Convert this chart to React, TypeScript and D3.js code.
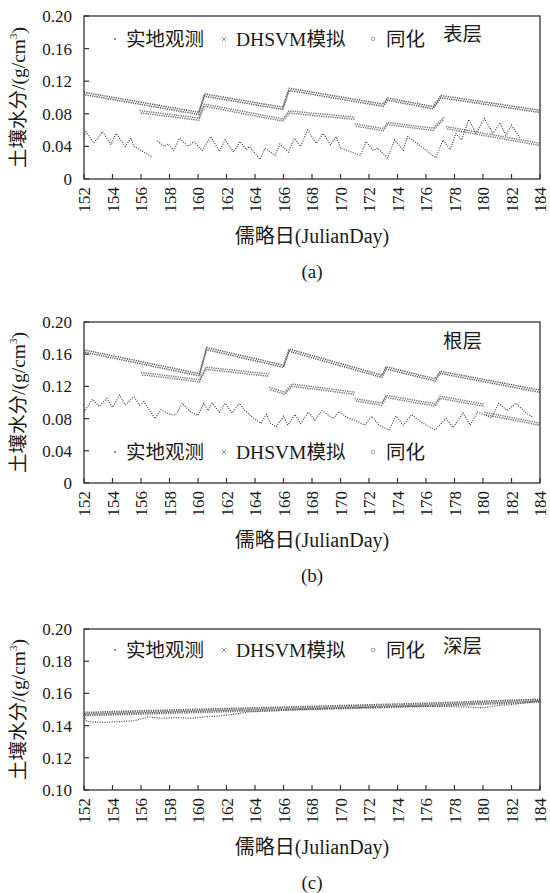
import React from "react";
import * as d3 from "d3";

type Pt = [number, number] | null;

// ---------- tick labels ----------
const xTicks = [152, 154, 156, 158, 160, 162, 164, 166, 168, 170, 172, 174, 176, 178, 180, 182, 184];
const yTicksAB = [0, 0.04, 0.08, 0.12, 0.16, 0.2];
const yLabelsAB = ["0", "0.04", "0.08", "0.12", "0.16", "0.20"];
const yTicksC = [0.1, 0.12, 0.14, 0.16, 0.18, 0.2];
const yLabelsC = ["0.10", "0.12", "0.14", "0.16", "0.18", "0.20"];

const legendNames = ["实地观测", "DHSVM模拟", "同化"];
const layerNames = ["表层", "根层", "深层"];
const captions = ["(a)", "(b)", "(c)"];

// ---------- panel (a) 表层 ----------
const obsA: Pt[] = [
  [152.0, 0.052], [152.15, 0.058], [152.7, 0.044], [153.3, 0.058], [153.9, 0.042], [154.25, 0.056],
  [154.9, 0.040], [155.3, 0.050], [155.5, 0.040], [156.8, 0.027], null,
  [157.15, 0.047], [157.6, 0.040], [157.9, 0.043], [158.3, 0.035], [158.7, 0.050], [159.3, 0.040],
  [159.7, 0.046], [160.3, 0.035], [160.9, 0.052], [161.5, 0.034], [161.9, 0.048], [162.5, 0.033],
  [162.95, 0.046], [163.4, 0.036], [163.6, 0.040], [164.35, 0.024], [164.7, 0.038], [165.4, 0.029],
  [165.75, 0.043], [166.35, 0.033], [166.75, 0.050], [167.2, 0.040], [167.7, 0.060], [168.3, 0.044],
  [168.8, 0.056], [169.3, 0.042], [169.7, 0.052], [170.0, 0.038], [171.4, 0.029], [171.8, 0.046],
  [172.3, 0.035], [172.6, 0.038], [173.3, 0.026], [173.8, 0.048], [174.4, 0.035], [174.7, 0.052],
  [175.2, 0.046], [176.7, 0.026], [177.2, 0.048], [177.7, 0.036], [178.1, 0.056], [178.5, 0.048],
  [179.0, 0.073], [179.5, 0.056], [180.1, 0.074], [180.7, 0.056], [181.2, 0.069], [181.6, 0.054],
  [182.0, 0.066], [182.6, 0.050],
];
const dhsvmA: Pt[] = [
  [152, 0.105], [160.05, 0.0805], [160.45, 0.103], [165.95, 0.0867], [166.4, 0.110],
  [173.0, 0.0905], [173.3, 0.098], [176.5, 0.0875], [177.05, 0.101], [184, 0.083],
];
const assimA: Pt[] = [
  [155.9, 0.0826], [160.05, 0.0735], [160.45, 0.0905], [165.95, 0.0724], [166.4, 0.0822],
  [171.0, 0.0745], null,
  [171.0, 0.0665], [173.0, 0.0605], [173.3, 0.068], [176.5, 0.061], [177.25, 0.0745], null,
  [177.4, 0.063], [184, 0.0425],
];

// ---------- panel (b) 根层 ----------
const obsB: Pt[] = [
  [152.0, 0.088], [152.1, 0.091], [152.6, 0.104], [153.05, 0.095], [153.6, 0.105], [154.0, 0.094],
  [154.5, 0.109], [154.9, 0.097], [155.5, 0.107], [155.9, 0.097], [156.2, 0.101], [157.0, 0.080],
  [157.4, 0.091], [157.8, 0.087], [158.4, 0.084], [158.9, 0.099], [159.5, 0.088], [160.0, 0.084],
  [160.4, 0.099], [160.7, 0.090], [161.0, 0.099], [161.5, 0.088], [161.9, 0.099], [162.4, 0.087],
  [162.9, 0.099], [163.3, 0.090], [163.8, 0.082], [164.4, 0.074], [164.8, 0.085], [165.1, 0.074],
  [165.5, 0.070], [166.0, 0.083], [166.3, 0.072], [166.8, 0.085], [167.2, 0.074], [167.75, 0.088],
  [168.2, 0.078], [168.7, 0.090], [169.5, 0.080], [169.9, 0.089], [170.4, 0.082], [171.0, 0.078],
  [171.7, 0.072], [172.2, 0.083], [172.7, 0.072], [173.4, 0.066], [173.9, 0.083], [174.4, 0.072],
  [175.0, 0.085], [175.7, 0.075], [176.65, 0.066], [177.4, 0.080], [177.9, 0.069], [178.6, 0.087],
  [179.1, 0.072], [179.6, 0.088], [180.2, 0.084], [180.6, 0.081], [181.1, 0.099], [181.7, 0.090],
  [182.3, 0.099], [183.1, 0.086], [183.5, 0.082],
];
const dhsvmB: Pt[] = [
  [152, 0.164], [160.1, 0.1345], [160.6, 0.167], [166.0, 0.145], [166.4, 0.165],
  [172.9, 0.1325], [173.2, 0.143], [176.65, 0.128], [177.0, 0.1375], [184, 0.114],
];
const assimB: Pt[] = [
  [156.0, 0.136], [160.1, 0.127], [160.55, 0.1425], [165.0, 0.134], null,
  [165.0, 0.1176], [166.1, 0.1114], [166.6, 0.1215], [171.0, 0.1115], null,
  [171.0, 0.1035], [172.9, 0.098], [173.2, 0.1075], [176.65, 0.097], [177.0, 0.1065],
  [180.1, 0.0965], null,
  [180.1, 0.0865], [184, 0.073],
];

// ---------- panel (c) 深层 ----------
const obsC: Pt[] = [
  [152.0, 0.146], [152.2, 0.1425], [153.5, 0.142], [154.5, 0.1425], [155.5, 0.143], [156.2, 0.1445],
  [156.5, 0.1455], [157.5, 0.1445], [158.5, 0.145], [159.5, 0.1445], [160.5, 0.1455], [161.5, 0.146],
  [162.5, 0.147], [163.5, 0.1485], [165, 0.149], [167, 0.150], [169, 0.1505], [171, 0.151],
  [173, 0.1515], [175, 0.152], [177, 0.152], [179, 0.1515], [180, 0.151], [181, 0.1525],
  [182, 0.153], [184, 0.1555],
];
const dhsvmC: Pt[] = [
  [152, 0.1475], [160, 0.1495], [168, 0.1513], [176, 0.1532], [184, 0.1558],
];
const assimC: Pt[] = [
  [152, 0.1468], [160, 0.1488], [168, 0.1507], [176, 0.1526], [184, 0.1552],
];

const SERIF = "'Liberation Serif', 'Times New Roman', 'DejaVu Serif', 'Noto Sans CJK SC', serif";
const X0 = 84;
const X1 = 540;

interface PanelProps {
  top: number;
  bottom: number;
  domain: [number, number];
  yTicks: number[];
  yLabels: string[];
  obs: Pt[];
  dhsvm: Pt[];
  assim: Pt[];
  legendY: number;
  layer: string;
  layerY: number;
  caption: string;
}

function Panel(p: PanelProps) {
  const x = d3.scaleLinear().domain([152, 184]).range([X0, X1]);
  const y = d3.scaleLinear().domain(p.domain).range([p.bottom, p.top]);
  const line = d3
    .line<Pt>()
    .defined((d) => d !== null)
    .x((d) => x((d as [number, number])[0]))
    .y((d) => y((d as [number, number])[1]));
  const clipId = "clip" + p.top;
  const band = (data: Pt[], color: string) => {
    const dPath = line(data) || "";
    return (
      <g>
        <path d={dPath} fill="none" stroke={color} strokeWidth={1.5} strokeDasharray="1.3 1" transform="translate(0,-1.1)" />
        <path d={dPath} fill="none" stroke={color} strokeWidth={1.5} strokeDasharray="1.3 1" strokeDashoffset={1.15} transform="translate(0,1.1)" />
      </g>
    );
  };
  const midY = (p.top + p.bottom) / 2;
  const lc = p.legendY;
  const txt = { fontFamily: SERIF, fill: "#1a1a1a" } as const;
  return (
    <g>
      <defs>
        <clipPath id={clipId}>
          <rect x={X0} y={p.top} width={X1 - X0} height={p.bottom - p.top} />
        </clipPath>
      </defs>
      <g clipPath={`url(#${clipId})`}>
        {band(p.dhsvm, "#5e5e5e")}
        {band(p.assim, "#7a7a7a")}
        <path d={line(p.obs) || ""} fill="none" stroke="#444" strokeWidth={1.2} strokeDasharray="1 1.4" />
      </g>
      <rect x={X0} y={p.top} width={X1 - X0} height={p.bottom - p.top} fill="none" stroke="#333" strokeWidth={1.3} />
      {/* y axis */}
      {p.yTicks.map((t, i) => (
        <g key={"y" + i}>
          <line x1={X0} x2={X0 + 5} y1={y(t)} y2={y(t)} stroke="#333" strokeWidth={1.2} />
          <text x={72} y={y(t) + 6} textAnchor="end" fontSize={17} style={txt}>
            {p.yLabels[i]}
          </text>
        </g>
      ))}
      {/* x axis */}
      {xTicks.map((t) => (
        <g key={"x" + t}>
          <line x1={x(t)} x2={x(t)} y1={p.bottom} y2={p.bottom - 5} stroke="#333" strokeWidth={1.2} />
          <text
            transform={`translate(${x(t)},${p.bottom + 8}) rotate(-90)`}
            y={6}
            textAnchor="end"
            fontSize={17}
            style={txt}
          >
            {t}
          </text>
        </g>
      ))}
      {/* y title */}
      <text transform={`translate(25,${midY}) rotate(-90)`} textAnchor="middle" fontSize={19.5} style={txt}>
        土壤水分/(g/cm<tspan dy={-8} fontSize={11}>3</tspan><tspan dy={8}>)</tspan>
      </text>
      {/* x title */}
      <text x={312} y={p.bottom + 57 + 7} textAnchor="middle" fontSize={20} style={txt}>
        儒略日(JulianDay)
      </text>
      <text x={312} y={p.bottom + 93 + 6} textAnchor="middle" fontSize={19} style={txt}>
        {p.caption}
      </text>
      {/* legend */}
      <circle cx={115} cy={lc} r={0.9} fill="#555" />
      <text x={126} y={lc + 7} fontSize={19.5} style={txt}>{legendNames[0]}</text>
      <path d={`M${222},${lc - 2}L${226},${lc + 2}M${222},${lc + 2}L${226},${lc - 2}`} stroke="#777" strokeWidth={0.8} />
      <text x={236} y={lc + 7} fontSize={19.5} style={txt}>{legendNames[1]}</text>
      <circle cx={373} cy={lc} r={1.8} fill="none" stroke="#888" strokeWidth={0.8} />
      <text x={386} y={lc + 7} fontSize={19.5} style={txt}>{legendNames[2]}</text>
      <text x={443} y={p.layerY + 7} fontSize={19.5} style={txt}>{p.layer}</text>
    </g>
  );
}

export default function App() {
  return (
    <div style={{ position: "absolute", left: 0, top: 0 }}>
      <svg width={550} height={893} viewBox="0 0 550 893" style={{ display: "block", background: "#fff" }}>
        <rect x={0} y={0} width={550} height={893} fill="#fff" />
        <Panel top={16} bottom={179} domain={[0, 0.2]} yTicks={yTicksAB} yLabels={yLabelsAB}
          obs={obsA} dhsvm={dhsvmA} assim={assimA} legendY={39} layer={layerNames[0]} layerY={34} caption={captions[0]} />
        <Panel top={322} bottom={483} domain={[0, 0.2]} yTicks={yTicksAB} yLabels={yLabelsAB}
          obs={obsB} dhsvm={dhsvmB} assim={assimB} legendY={452} layer={layerNames[1]} layerY={341} caption={captions[1]} />
        <Panel top={629} bottom={790} domain={[0.1, 0.2]} yTicks={yTicksC} yLabels={yLabelsC}
          obs={obsC} dhsvm={dhsvmC} assim={assimC} legendY={650} layer={layerNames[2]} layerY={646} caption={captions[2]} />
      </svg>
    </div>
  );
}
